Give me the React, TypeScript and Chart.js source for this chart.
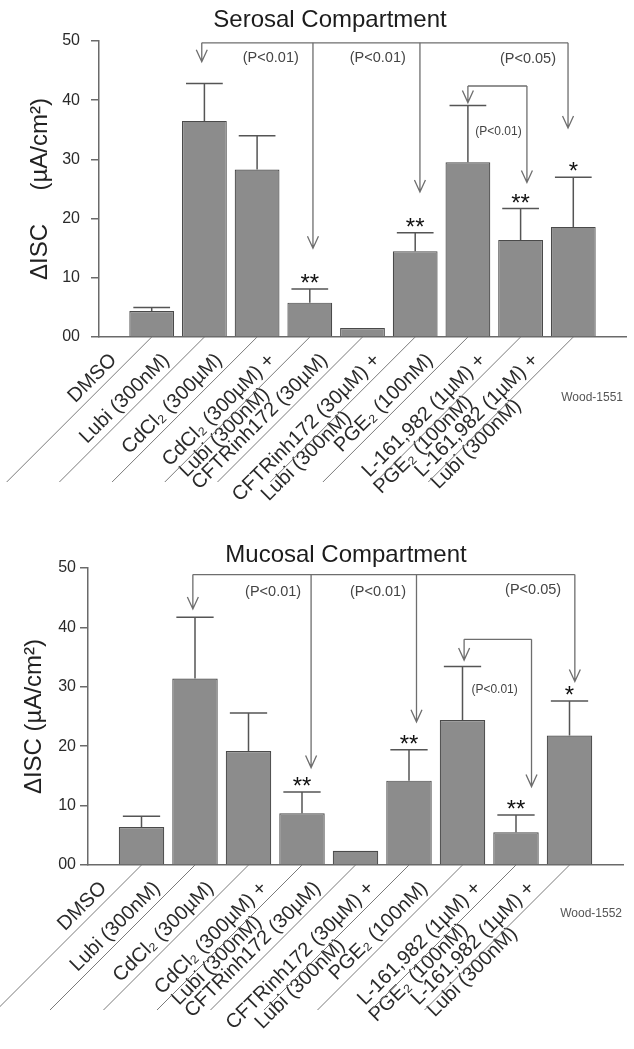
import React, { useEffect, useRef } from 'react';
import { Chart, registerables } from 'chart.js';

Chart.register(...registerables);

const FONT = '"Liberation Sans", Arial, Helvetica, sans-serif';

// x categories (blank slots at both ends of the axis)
const categories: (string | string[])[] = [
  '',
  'DMSO',
  'Lubi (300nM)',
  'CdCl₂ (300µM)',
  ['CdCl₂ (300µM) +', 'Lubi (300nM)     '],
  'CFTRinh172 (30µM)',
  ['CFTRinh172 (30µM) +', 'Lubi (300nM)           '],
  'PGE₂ (100nM)',
  ['L-161,982 (1µM) +', 'PGE₂ (100nM)       '],
  ['L-161,982 (1µM) +', 'Lubi (300nM)        '],
  '',
];

const yTicks = [0, 10, 20, 30, 40, 50];
const yTickLabels = ['00', '10', '20', '30', '40', '50'];

// Serosal compartment
const serosalMeans = [4.4, 36.5, 28.3, 5.8, 1.5, 14.5, 29.5, 16.4, 18.6];
const serosalSem = [0.6, 6.3, 5.7, 2.3, 0, 3.1, 9.6, 5.3, 8.4];
const serosalStars = ['', '', '', '**', '', '**', '', '**', '*'];
const serosalBracketLevels = [49.7, 42.4];
const serosalArrowX = [[1.95, 4.06, 6.09, 8.9], [7.0, 8.12]];
const serosalArrowTips = [[46.5, 15.0, 24.5, 35.3], [39.6, 26.1]];
const serosalPText = ['(P<0.01)', '(P<0.01)', '(P<0.05)'];
const serosalPX = [3.26, 5.29, 8.14];
const serosalPY = [47.2, 47.2, 46.9];
const serosalInnerP = { text: '(P<0.01)', x: 7.58, y: 34.7 };

// Mucosal compartment
const mucosalMeans = [6.4, 31.4, 19.2, 8.7, 2.4, 14.2, 24.4, 5.5, 21.8];
const mucosalSem = [1.8, 10.3, 6.4, 3.6, 0, 5.2, 9.0, 2.9, 5.8];
const mucosalStars = ['', '', '', '**', '', '**', '', '**', '*'];
const mucosalBracketLevels = [48.9, 38.0];
const mucosalArrowX = [[1.96, 4.17, 6.14, 9.1], [7.03, 8.29]];
const mucosalArrowTips = [[43.1, 16.4, 24.1, 30.9], [34.5, 13.2]];
const mucosalPText = ['(P<0.01)', '(P<0.01)', '(P<0.05)'];
const mucosalPX = [3.46, 5.42, 8.32];
const mucosalPY = [46.0, 46.0, 46.3];
const mucosalInnerP = { text: '(P<0.01)', x: 7.6, y: 29.5 };

type Panel = {
  title: string;
  yTitle: string;
  means: number[];
  sem: number[];
  stars: string[];
  levels: number[];
  arrowX: number[][];
  arrowTips: number[][];
  pText: string[];
  pX: number[];
  pY: number[];
  innerP: { text: string; x: number; y: number };
  tag: string;
  // layout
  canvasTop: number;
  canvasH: number;
  padTop: number;
  padRight: number;
  yWidth: number;
  xHeight: number;
  titleX: number;
  titleY: number;
  yTitlePad: number;
  yTickPad: number;
  tagX: number;
  tagY: number;
};

const panels: Panel[] = [
  {
    title: 'Serosal Compartment',
    yTitle: 'ΔISC     (µA/cm²)',
    means: serosalMeans,
    sem: serosalSem,
    stars: serosalStars,
    levels: serosalBracketLevels,
    arrowX: serosalArrowX,
    arrowTips: serosalArrowTips,
    pText: serosalPText,
    pX: serosalPX,
    pY: serosalPY,
    innerP: serosalInnerP,
    tag: 'Wood-1551',
    canvasTop: 0,
    canvasH: 520,
    padTop: 41,
    padRight: 8,
    yWidth: 99,
    xHeight: 183,
    titleX: 330,
    titleY: 27,
    yTitlePad: 25.6,
    yTickPad: 11,
    tagX: 623,
    tagY: 401,
  },
  {
    title: 'Mucosal Compartment',
    yTitle: 'ΔISC (µA/cm²)',
    means: mucosalMeans,
    sem: mucosalSem,
    stars: mucosalStars,
    levels: mucosalBracketLevels,
    arrowX: mucosalArrowX,
    arrowTips: mucosalArrowTips,
    pText: mucosalPText,
    pX: mucosalPX,
    pY: mucosalPY,
    innerP: mucosalInnerP,
    tag: 'Wood-1552',
    canvasTop: 520,
    canvasH: 529,
    padTop: 48,
    padRight: 11,
    yWidth: 88,
    xHeight: 184,
    titleX: 346,
    titleY: 42,
    yTitlePad: 19.6,
    yTickPad: 4,
    tagX: 622,
    tagY: 397,
  },
];

function overlay(p: Panel) {
  return {
    id: 'overlay',
    afterDraw(chart: any) {
      const { ctx } = chart;
      const x = chart.scales.x;
      const y = chart.scales.y;
      const meta = chart.getDatasetMeta(0);
      ctx.save();

      // title
      ctx.fillStyle = '#1c1c1c';
      ctx.font = `24px ${FONT}`;
      ctx.textAlign = 'center';
      ctx.textBaseline = 'alphabetic';
      ctx.fillText(p.title, p.titleX, p.titleY);

      // diagonal underlines of category labels
      ctx.strokeStyle = '#7a7a7a';
      ctx.lineWidth = 1;
      for (let i = 1; i < categories.length - 1; i++) {
        const tx = x.getPixelForTick(i);
        ctx.beginPath();
        ctx.moveTo(tx, y.bottom);
        ctx.lineTo(tx - 145, y.bottom + 145);
        ctx.stroke();
      }

      // error bars + significance stars
      p.means.forEach((m, k) => {
        const el = meta.data[k + 1];
        if (!el) return;
        const { x: bx, width } = el.getProps(['x', 'width'], true);
        const top = y.getPixelForValue(m + p.sem[k]);
        if (p.sem[k] > 0) {
          const base = y.getPixelForValue(m);
          const hw = width * 0.41;
          ctx.strokeStyle = '#555';
          ctx.lineWidth = 1.5;
          ctx.beginPath();
          ctx.moveTo(bx, base);
          ctx.lineTo(bx, top);
          ctx.moveTo(bx - hw, top);
          ctx.lineTo(bx + hw, top);
          ctx.stroke();
        }
        if (p.stars[k]) {
          ctx.fillStyle = '#111';
          ctx.font = `24px ${FONT}`;
          ctx.textAlign = 'center';
          ctx.textBaseline = 'alphabetic';
          ctx.fillText(p.stars[k], bx, top + 2);
        }
      });

      // brackets with arrows
      ctx.strokeStyle = '#6e6e6e';
      ctx.lineWidth = 1.3;
      p.levels.forEach((lv, b) => {
        const xs = p.arrowX[b].map((v) => x.getPixelForValue(v));
        const ly = y.getPixelForValue(lv);
        ctx.beginPath();
        ctx.moveTo(Math.min(...xs), ly);
        ctx.lineTo(Math.max(...xs), ly);
        ctx.stroke();
        xs.forEach((ax, j) => {
          const tip = y.getPixelForValue(p.arrowTips[b][j]);
          ctx.beginPath();
          ctx.moveTo(ax, ly);
          ctx.lineTo(ax, tip);
          ctx.moveTo(ax - 5.5, tip - 12);
          ctx.lineTo(ax, tip);
          ctx.lineTo(ax + 5.5, tip - 12);
          ctx.stroke();
        });
      });

      // p-value labels
      ctx.fillStyle = '#444';
      ctx.textAlign = 'center';
      ctx.textBaseline = 'middle';
      ctx.font = `14.5px ${FONT}`;
      p.pText.forEach((t, i) => {
        ctx.fillText(t, x.getPixelForValue(p.pX[i]), y.getPixelForValue(p.pY[i]));
      });
      ctx.font = `12px ${FONT}`;
      ctx.fillText(p.innerP.text, x.getPixelForValue(p.innerP.x), y.getPixelForValue(p.innerP.y));

      // figure tag
      ctx.fillStyle = '#555';
      ctx.textAlign = 'right';
      ctx.textBaseline = 'alphabetic';
      ctx.font = `12px ${FONT}`;
      ctx.fillText(p.tag, p.tagX, p.tagY);

      ctx.restore();
    },
  };
}

function build(canvas: HTMLCanvasElement, p: Panel) {
  return new Chart(canvas, {
    type: 'bar',
    data: {
      labels: categories as any,
      datasets: [
        {
          data: [null, ...p.means, null] as any,
          backgroundColor: '#8c8c8c',
          borderColor: '#4a4a4a',
          borderWidth: 1.2,
          barPercentage: 0.85,
          categoryPercentage: 1,
        },
      ],
    },
    options: {
      responsive: false,
      animation: false,
      events: [],
      layout: { padding: { top: p.padTop, right: p.padRight, left: 0, bottom: 0 } },
      plugins: {
        legend: { display: false },
        tooltip: { enabled: false },
        title: { display: false },
      },
      scales: {
        x: {
          type: 'category',
          offset: false,
          grid: { display: false, drawTicks: false },
          border: { display: true, color: '#6a6a6a', width: 1.5 },
          ticks: {
            autoSkip: false,
            minRotation: 45,
            maxRotation: 45,
            labelOffset: -38,
            padding: 13,
            color: '#2a2a2a',
            font: { family: FONT, size: 20, lineHeight: 1.0 },
          },
          afterFit: (s: any) => {
            s.height = p.xHeight;
            s.paddingLeft = 0;
            s.paddingRight = 0;
          },
        },
        y: {
          min: 0,
          max: 50,
          afterBuildTicks: (s: any) => {
            s.ticks = yTicks.map((v) => ({ value: v }));
          },
          ticks: {
            padding: p.yTickPad,
            color: '#2a2a2a',
            font: { family: FONT, size: 16 },
            callback: (v: any) => yTickLabels[yTicks.indexOf(Number(v))] ?? String(v),
          },
          grid: { drawOnChartArea: false, drawTicks: true, tickLength: 8, color: '#6a6a6a', lineWidth: 1.5 },
          border: { display: true, color: '#6a6a6a', width: 1.5 },
          title: {
            display: true,
            text: p.yTitle,
            color: '#222',
            font: { family: FONT, size: 24 },
            padding: { top: p.yTitlePad, bottom: 0 },
          },
          afterFit: (s: any) => {
            s.width = p.yWidth;
          },
        },
      },
    } as any,
    plugins: [overlay(p)],
  });
}

function PanelChart({ p }: { p: Panel }) {
  const ref = useRef<HTMLCanvasElement | null>(null);
  useEffect(() => {
    if (!ref.current) return;
    const c = build(ref.current, p);
    return () => c.destroy();
  }, [p]);
  return (
    <canvas
      ref={ref}
      width={634}
      height={p.canvasH}
      style={{ position: 'absolute', left: 0, top: p.canvasTop, width: 634, height: p.canvasH, display: 'block' }}
    />
  );
}

export default function App() {
  return (
    <div style={{ position: 'fixed', left: 0, top: 0, width: 634, height: 1049, background: '#fff', overflow: 'hidden' }}>
      {panels.map((p) => (
        <PanelChart key={p.tag} p={p} />
      ))}
    </div>
  );
}
